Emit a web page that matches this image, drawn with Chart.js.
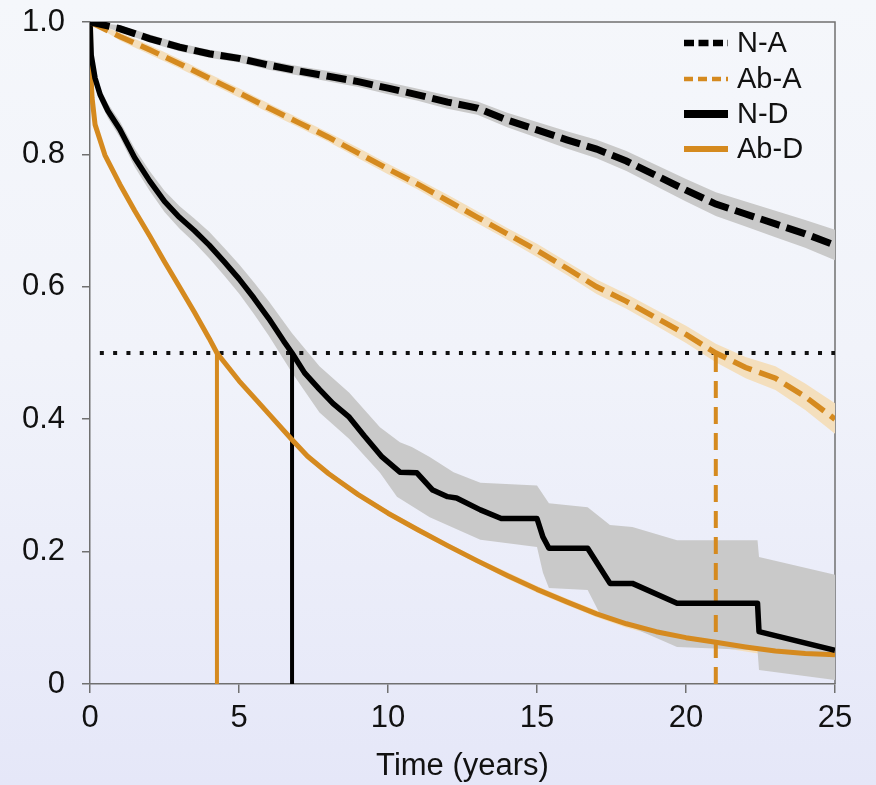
<!DOCTYPE html>
<html><head><meta charset="utf-8">
<script src="https://cdn.jsdelivr.net/npm/chart.js@4"></script>
<style>
html,body{margin:0;padding:0;}
body{width:876px;height:785px;background:linear-gradient(to bottom,#f5f7fb 0%,#f1f3fa 45%,#e5e7f8 100%);overflow:hidden;}
canvas{display:block;}
</style></head><body>
<canvas id="c" width="876" height="785"></canvas>
<script>
// ---- axis ticks ----
const xTicks = [0, 5, 10, 15, 20, 25];
const yTicks = [0, 0.2, 0.4, 0.6, 0.8, 1.0];
const yTickLabels = ['0', '0.2', '0.4', '0.6', '0.8', '1.0'];
const xTitle = 'Time (years)';
const seriesNames = ['N-A', 'Ab-A', 'N-D', 'Ab-D'];

// ---- N-A (black dashed) ----
const naX = [0,1,2,3,4,5,6,7,8,9,10,11,12,13,14,15,16,17,18,19,20,21,22,23,24,25];
const naY = [1.0,0.990,0.975,0.962,0.952,0.945,0.935,0.926,0.918,0.910,0.900,0.890,0.879,0.870,0.852,0.837,0.822,0.808,0.790,0.768,0.746,0.725,0.710,0.695,0.680,0.663];
const naUpper = [1.0,0.995,0.981,0.968,0.958,0.951,0.942,0.933,0.926,0.918,0.909,0.899,0.889,0.880,0.863,0.849,0.835,0.822,0.805,0.784,0.763,0.743,0.729,0.715,0.701,0.686];
const naLower = [1.0,0.985,0.969,0.956,0.946,0.939,0.928,0.919,0.910,0.902,0.891,0.881,0.869,0.860,0.841,0.825,0.809,0.794,0.775,0.752,0.729,0.707,0.691,0.675,0.659,0.640];

// ---- Ab-A (orange dashed) ----
const abaX = [0,1,2,3,4,5,6,7,8,9,10,11,12,13,14,15,16,17,18,19,20,21,22,23,24,25];
const abaY = [1.0,0.978,0.958,0.937,0.915,0.893,0.870,0.848,0.826,0.802,0.778,0.755,0.730,0.705,0.680,0.655,0.628,0.600,0.578,0.553,0.528,0.500,0.478,0.462,0.434,0.400];
const abaUpper = [1.0,0.984,0.965,0.944,0.922,0.900,0.877,0.855,0.833,0.810,0.786,0.763,0.739,0.714,0.689,0.665,0.638,0.611,0.589,0.565,0.541,0.514,0.494,0.480,0.454,0.424];
const abaLower = [1.0,0.972,0.951,0.930,0.908,0.886,0.863,0.841,0.819,0.794,0.770,0.747,0.721,0.696,0.671,0.645,0.618,0.589,0.567,0.541,0.515,0.486,0.462,0.444,0.414,0.378];

// ---- N-D (black solid, step-like) ----
const ndX = [0,0.04,0.17,0.34,0.6,1.0,1.5,2.0,2.5,3.0,3.5,4.0,4.5,5.0,5.5,6.0,6.5,6.78,7.2,7.7,8.15,8.7,9.2,9.8,10.4,10.97,11.5,12.0,12.3,13.1,13.8,15.0,15.2,15.4,16.7,17.45,18.2,19.7,22.4,22.45,25];
const ndY = [1.0,0.95,0.915,0.89,0.866,0.838,0.795,0.760,0.729,0.705,0.685,0.663,0.638,0.612,0.583,0.552,0.518,0.5,0.47,0.445,0.424,0.403,0.375,0.343,0.32,0.319,0.293,0.283,0.281,0.263,0.25,0.25,0.222,0.205,0.205,0.152,0.152,0.122,0.122,0.079,0.051];
const ndUpX = [0,0.17,0.34,0.6,1.0,1.5,2.0,2.5,3.0,3.5,4.0,4.5,5.0,5.5,6.0,6.78,7.7,8.7,9.73,10.4,10.8,11.4,12.2,13.1,15.0,15.4,16.7,17.45,18.2,19.7,22.4,22.45,25];
const ndUpY = [1.0,0.925,0.90,0.877,0.850,0.809,0.775,0.745,0.722,0.703,0.683,0.659,0.634,0.607,0.578,0.53,0.48,0.44,0.388,0.365,0.358,0.343,0.32,0.304,0.30,0.273,0.267,0.24,0.237,0.217,0.217,0.192,0.165];
const ndLoX = [0,0.17,0.34,0.6,1.0,1.5,2.0,2.5,3.0,3.5,4.0,4.5,5.0,5.5,6.0,6.78,7.7,8.7,9.73,10.3,11.4,13.1,15.0,15.2,15.4,16.7,17.1,19.7,22.4,22.45,25];
const ndLoY = [1.0,0.905,0.88,0.855,0.826,0.781,0.745,0.713,0.688,0.667,0.643,0.617,0.590,0.559,0.526,0.47,0.41,0.37,0.319,0.283,0.252,0.218,0.207,0.168,0.145,0.142,0.107,0.056,0.051,0.021,0.006];

// ---- Ab-D (orange solid) ----
const abdX = [0,0.02,0.07,0.17,0.5,1,1.5,2,2.5,3,3.5,4,4.26,5,5.6,6,6.78,7.3,8,8.4,9,10,11,12,13,14,15,16,17,18,19,20,21,22,23,24,25];
const abdY = [1.0,0.93,0.885,0.845,0.799,0.755,0.715,0.677,0.638,0.600,0.562,0.522,0.50,0.458,0.428,0.408,0.369,0.344,0.318,0.305,0.286,0.258,0.233,0.209,0.186,0.164,0.143,0.124,0.106,0.091,0.079,0.07,0.063,0.056,0.05,0.046,0.044];
const abdUpper = [1.0,0.932,0.888,0.848,0.802,0.758,0.718,0.680,0.641,0.603,0.565,0.525,0.503,0.461,0.431,0.411,0.373,0.348,0.322,0.309,0.290,0.262,0.237,0.213,0.190,0.169,0.148,0.129,0.111,0.097,0.085,0.076,0.07,0.063,0.058,0.054,0.053];
const abdLower = [1.0,0.928,0.882,0.842,0.796,0.752,0.712,0.674,0.635,0.597,0.559,0.519,0.497,0.455,0.425,0.405,0.365,0.340,0.314,0.301,0.282,0.254,0.229,0.205,0.182,0.159,0.138,0.119,0.101,0.085,0.073,0.064,0.056,0.049,0.042,0.038,0.035];

// ---- reference lines ----
const halfLevel = 0.5;
const dottedStartX = 0.33;
const medianAbD = 4.26;
const medianND = 6.78;
const medianAbA = 21.0;

const ORANGE = '#d58a1f';
const GRAY_BAND = '#c9c9c9';
const ORANGE_BAND = '#f4dfbd';
const AXIS = '#707070';
const FONT = '"Liberation Sans", Arial, sans-serif';

function xy(xs, ys) { return xs.map((x, i) => ({x: x, y: ys[i]})); }

function band(label, upX, upY, loX, loY, color) {
  return [
    {label: label + ' upper', data: xy(upX, upY), borderWidth: 0, pointRadius: 0, fill: false, order: 20, borderColor: 'rgba(0,0,0,0)'},
    {label: label + ' lower', data: xy(loX, loY), borderWidth: 0, pointRadius: 0, fill: '-1', backgroundColor: color, order: 20, borderColor: 'rgba(0,0,0,0)'}
  ];
}

const datasets = [
  ...band('N-A', naX, naUpper, naX, naLower, GRAY_BAND),
  ...band('Ab-A', abaX, abaUpper, abaX, abaLower, ORANGE_BAND),
  ...band('N-D', ndUpX, ndUpY, ndLoX, ndLoY, GRAY_BAND),
  ...band('Ab-D', abdX, abdUpper, abdX, abdLower, ORANGE_BAND),
  {label: 'half', data: [{x: dottedStartX, y: halfLevel}, {x: 25, y: halfLevel}], borderColor: '#111', borderWidth: 4, borderDash: [4, 9.3], pointRadius: 0, order: 10, borderCapStyle: 'butt'},
  {label: 'med Ab-D', data: [{x: medianAbD, y: 0}, {x: medianAbD, y: halfLevel}], borderColor: ORANGE, borderWidth: 4, pointRadius: 0, order: 9},
  {label: 'med N-D', data: [{x: medianND, y: 0}, {x: medianND, y: halfLevel}], borderColor: '#000', borderWidth: 4, pointRadius: 0, order: 9},
  {label: 'med Ab-A', data: [{x: medianAbA, y: 0}, {x: medianAbA, y: halfLevel}], borderColor: ORANGE, borderWidth: 4, borderDash: [17, 9], pointRadius: 0, order: 9},
  {label: 'Ab-D', data: xy(abdX, abdY), borderColor: ORANGE, borderWidth: 5, pointRadius: 0, order: 3, borderJoinStyle: 'round'},
  {label: 'N-D', data: xy(ndX, ndY), borderColor: '#000', borderWidth: 5.5, pointRadius: 0, order: 2, borderJoinStyle: 'round'},
  {label: 'Ab-A', data: xy(abaX, abaY), borderColor: ORANGE, borderWidth: 5.5, borderDash: [20, 8], pointRadius: 0, order: 1},
  {label: 'N-A', data: xy(naX, naY), borderColor: '#000', borderWidth: 7, borderDash: [20, 7], pointRadius: 0, order: 0}
];

const framePlugin = {
  id: 'frame',
  beforeDatasetsDraw(chart) {
    const {ctx, chartArea: a} = chart;
    ctx.save();
    ctx.strokeStyle = AXIS; ctx.lineWidth = 1.5;
    ctx.beginPath();
    ctx.moveTo(a.left, a.top); ctx.lineTo(a.right, a.top); ctx.lineTo(a.right, a.bottom);
    ctx.stroke();
    ctx.restore();
  }
};

const legendPlugin = {
  id: 'customLegend',
  afterDraw(chart) {
    const ctx = chart.ctx;
    const items = [
      {c: '#000', w: 6.5, d: [10, 4.5]},
      {c: ORANGE, w: 4.5, d: [9, 5]},
      {c: '#000', w: 8, d: []},
      {c: ORANGE, w: 6, d: []}
    ];
    const ys = [43, 79, 114, 149];
    ctx.save();
    ctx.font = '29px ' + FONT;
    ctx.textBaseline = 'middle';
    ctx.fillStyle = '#111';
    items.forEach((it, i) => {
      ctx.beginPath();
      ctx.setLineDash(it.d);
      ctx.lineWidth = it.w;
      ctx.strokeStyle = it.c;
      ctx.lineCap = 'butt';
      ctx.moveTo(684, ys[i]); ctx.lineTo(728, ys[i]);
      ctx.stroke();
      ctx.setLineDash([]);
      ctx.fillText(seriesNames[i], 737, ys[i] + 1);
    });
    ctx.restore();
  }
};

new Chart(document.getElementById('c'), {
  type: 'line',
  data: {datasets: datasets},
  options: {
    responsive: false,
    animation: false,
    devicePixelRatio: 1,
    layout: {padding: {top: 22, right: 41, left: 0, bottom: 0}},
    plugins: {legend: {display: false}, tooltip: {enabled: false}},
    elements: {line: {tension: 0}},
    scales: {
      x: {
        type: 'linear', min: 0, max: 25,
        afterFit(s) { s.height = 101; s.paddingLeft = 0; s.paddingRight = 0; },
        afterBuildTicks(s) { s.ticks = xTicks.map(v => ({value: v})); },
        ticks: {color: '#111', font: {family: FONT, size: 31}, padding: 7, maxRotation: 0},
        grid: {display: true, drawOnChartArea: false, drawTicks: true, tickLength: 9, color: AXIS, lineWidth: 1.5},
        border: {display: true, color: AXIS, width: 1.5},
        title: {display: true, text: xTitle, color: '#111', font: {family: FONT, size: 31}, padding: {top: 2, bottom: 0}}
      },
      y: {
        type: 'linear', min: 0, max: 1,
        afterFit(s) { s.width = 90; s.paddingTop = 0; s.paddingBottom = 0; },
        afterBuildTicks(s) { s.ticks = yTicks.map(v => ({value: v})); },
        ticks: {color: '#111', font: {family: FONT, size: 31}, padding: 17,
          callback: (v) => { const i = yTicks.findIndex(t => Math.abs(t - v) < 1e-9); return i >= 0 ? yTickLabels[i] : ''; }},
        grid: {display: true, drawOnChartArea: false, drawTicks: true, tickLength: 8, color: AXIS, lineWidth: 1.5},
        border: {display: true, color: AXIS, width: 1.5}
      }
    }
  },
  plugins: [framePlugin, legendPlugin]
});
</script>
</body></html>
